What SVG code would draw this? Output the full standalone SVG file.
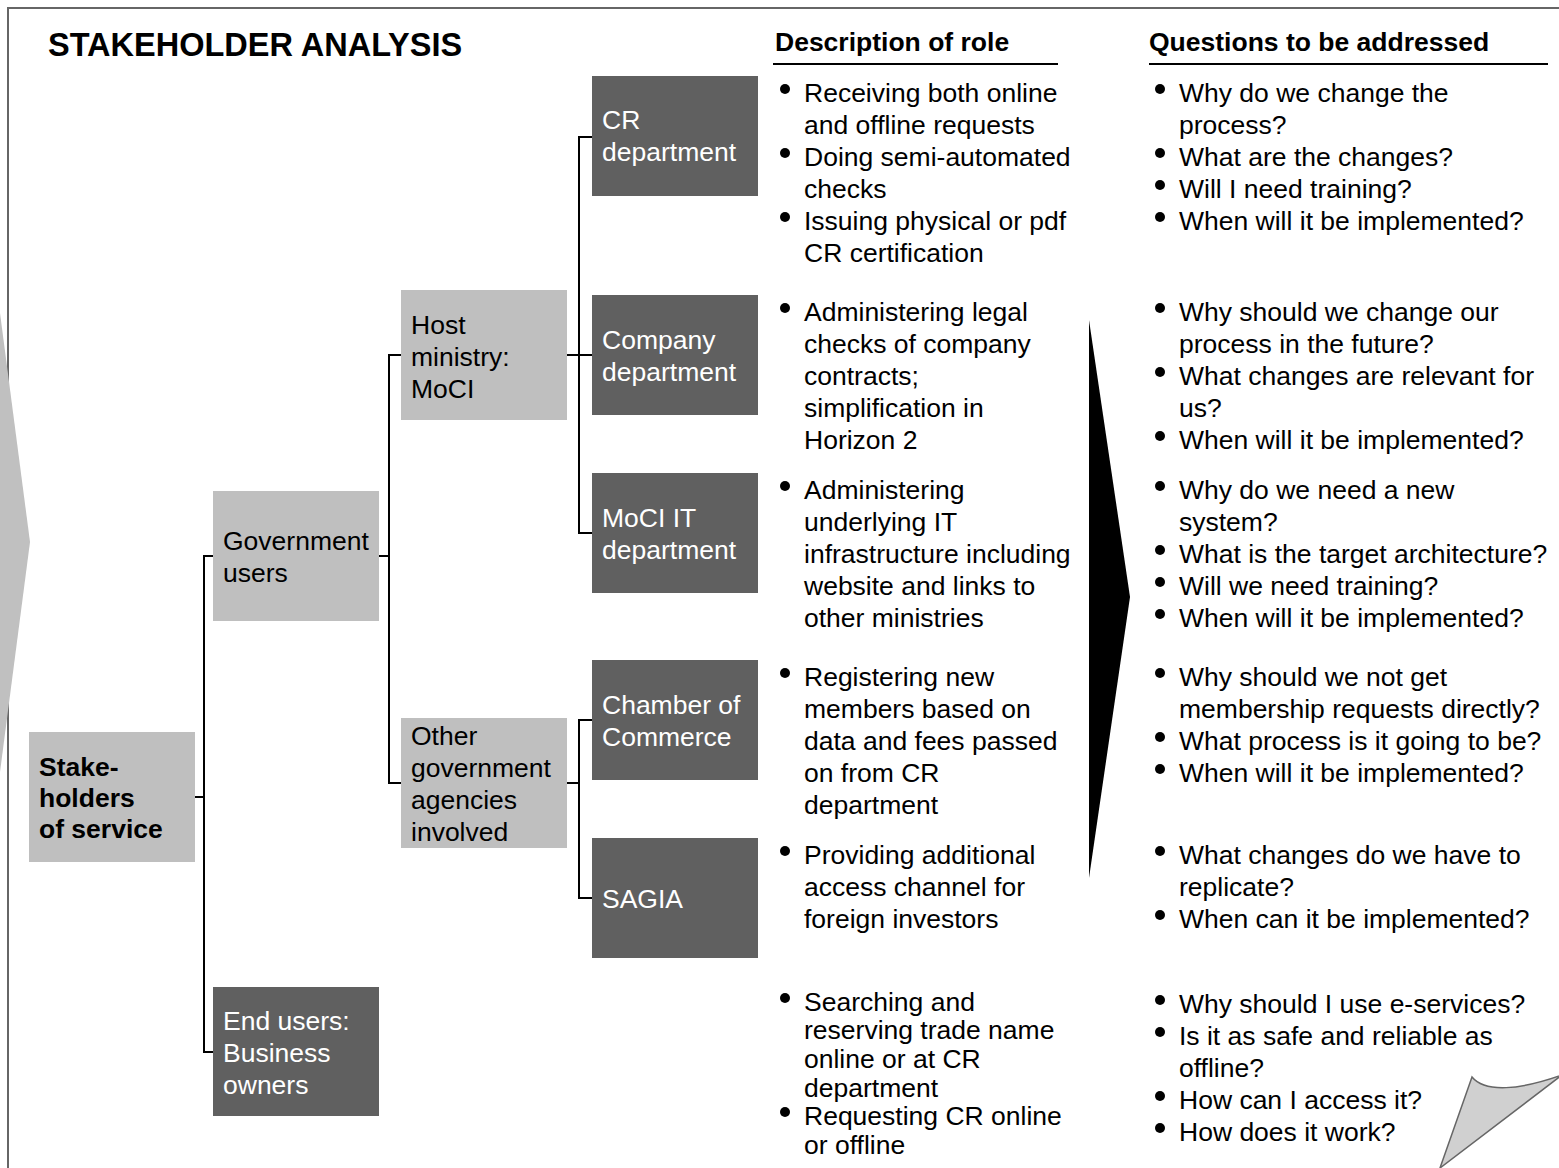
<svg xmlns="http://www.w3.org/2000/svg" width="1559" height="1168" viewBox="0 0 1559 1168">
<style>
text{font-family:"Liberation Sans",Arial,sans-serif;font-size:26.5px;fill:#000}
.b{font-weight:bold}
.w{fill:#fff}
.lt{fill:#bfbfbf}
.dk{fill:#606060}
.con{fill:none;stroke:#000;stroke-width:2}
.dot{fill:#000}
</style>
<rect x="0" y="0" width="1559" height="1168" fill="#fff"/>
<path d="M8,1168 V8 H1559" fill="none" stroke="#666" stroke-width="2"/>
<polygon points="0,313 30,542 0,772" fill="#c0c0c0"/>
<polygon points="1089,320 1130,597 1089,878" fill="#000"/>
<path d="M1440,1168 L1472,1077 C1485,1093 1520,1090 1562,1075 Z" fill="#d0d0d0" stroke="#666" stroke-width="1.5"/>

<text class="b" x="48" y="56" style="font-size:32.5px">STAKEHOLDER ANALYSIS</text>

<g id="header-role">
<text class="b" x="775" y="51">Description of role</text>
<line x1="773" y1="64" x2="1058" y2="64" stroke="#000" stroke-width="2"/>
</g>
<g id="header-questions">
<text class="b" x="1149" y="51">Questions to be addressed</text>
<line x1="1149" y1="64" x2="1548" y2="64" stroke="#000" stroke-width="2"/>
</g>

<g id="connectors">
<path class="con" d="M195,797 H204 M213,556 H204 V1052 H213"/>
<path class="con" d="M379,556 H389 M401,355 H389 V783 H401"/>
<path class="con" d="M567,355 H592 M592,137 H579 V533 H592"/>
<path class="con" d="M567,783 H579 M592,720 H579 V898 H592"/>
</g>

<g id="stakeholders">
<rect class="lt" x="29" y="732" width="166" height="130"/>
<text class="b" x="39" y="776">Stake-</text>
<text class="b" x="39" y="807">holders</text>
<text class="b" x="39" y="838">of service</text>
</g>
<g id="government-users">
<rect class="lt" x="213" y="491" width="166" height="130"/>
<text x="223" y="550">Government</text>
<text x="223" y="582">users</text>
</g>
<g id="end-users">
<rect class="dk" x="213" y="987" width="166" height="129"/>
<text class="w" x="223" y="1030">End users:</text>
<text class="w" x="223" y="1062">Business</text>
<text class="w" x="223" y="1094">owners</text>
</g>
<g id="host-ministry">
<rect class="lt" x="401" y="290" width="166" height="130"/>
<text x="411" y="334">Host</text>
<text x="411" y="366">ministry:</text>
<text x="411" y="398">MoCI</text>
</g>
<g id="other-agencies">
<rect class="lt" x="401" y="718" width="166" height="130"/>
<text x="411" y="745">Other</text>
<text x="411" y="777">government</text>
<text x="411" y="809">agencies</text>
<text x="411" y="841">involved</text>
</g>
<g id="cr-department">
<rect class="dk" x="592" y="76" width="166" height="120"/>
<text class="w" x="602" y="129">CR</text>
<text class="w" x="602" y="161">department</text>
</g>
<g id="company-department">
<rect class="dk" x="592" y="295" width="166" height="120"/>
<text class="w" x="602" y="349">Company</text>
<text class="w" x="602" y="381">department</text>
</g>
<g id="moci-it-department">
<rect class="dk" x="592" y="473" width="166" height="120"/>
<text class="w" x="602" y="527">MoCI IT</text>
<text class="w" x="602" y="559">department</text>
</g>
<g id="chamber-of-commerce">
<rect class="dk" x="592" y="660" width="166" height="120"/>
<text class="w" x="602" y="714">Chamber of</text>
<text class="w" x="602" y="746">Commerce</text>
</g>
<g id="sagia">
<rect class="dk" x="592" y="838" width="166" height="120"/>
<text class="w" x="602" y="908">SAGIA</text>
</g>

<g id="roles">
<circle class="dot" cx="785" cy="89" r="5"/>
<text x="804" y="102">Receiving both online</text>
<text x="804" y="134">and offline requests</text>
<circle class="dot" cx="785" cy="153" r="5"/>
<text x="804" y="166">Doing semi-automated</text>
<text x="804" y="198">checks</text>
<circle class="dot" cx="785" cy="217" r="5"/>
<text x="804" y="230">Issuing physical or pdf</text>
<text x="804" y="262">CR certification</text>

<circle class="dot" cx="785" cy="308" r="5"/>
<text x="804" y="321">Administering legal</text>
<text x="804" y="353">checks of company</text>
<text x="804" y="385">contracts;</text>
<text x="804" y="417">simplification in</text>
<text x="804" y="449">Horizon 2</text>

<circle class="dot" cx="785" cy="486" r="5"/>
<text x="804" y="499">Administering</text>
<text x="804" y="531">underlying IT</text>
<text x="804" y="563">infrastructure including</text>
<text x="804" y="595">website and links to</text>
<text x="804" y="627">other ministries</text>

<circle class="dot" cx="785" cy="673" r="5"/>
<text x="804" y="686">Registering new</text>
<text x="804" y="718">members based on</text>
<text x="804" y="750">data and fees passed</text>
<text x="804" y="782">on from CR</text>
<text x="804" y="814">department</text>

<circle class="dot" cx="785" cy="851" r="5"/>
<text x="804" y="864">Providing additional</text>
<text x="804" y="896">access channel for</text>
<text x="804" y="928">foreign investors</text>

<circle class="dot" cx="785" cy="998" r="5"/>
<text x="804" y="1011">Searching and</text>
<text x="804" y="1039">reserving trade name</text>
<text x="804" y="1068">online or at CR</text>
<text x="804" y="1097">department</text>
<circle class="dot" cx="785" cy="1112" r="5"/>
<text x="804" y="1125">Requesting CR online</text>
<text x="804" y="1154">or offline</text>
</g>

<g id="questions">
<circle class="dot" cx="1160" cy="89" r="5"/>
<text x="1179" y="102">Why do we change the</text>
<text x="1179" y="134">process?</text>
<circle class="dot" cx="1160" cy="153" r="5"/>
<text x="1179" y="166">What are the changes?</text>
<circle class="dot" cx="1160" cy="185" r="5"/>
<text x="1179" y="198">Will I need training?</text>
<circle class="dot" cx="1160" cy="217" r="5"/>
<text x="1179" y="230">When will it be implemented?</text>

<circle class="dot" cx="1160" cy="308" r="5"/>
<text x="1179" y="321">Why should we change our</text>
<text x="1179" y="353">process in the future?</text>
<circle class="dot" cx="1160" cy="372" r="5"/>
<text x="1179" y="385">What changes are relevant for</text>
<text x="1179" y="417">us?</text>
<circle class="dot" cx="1160" cy="436" r="5"/>
<text x="1179" y="449">When will it be implemented?</text>

<circle class="dot" cx="1160" cy="486" r="5"/>
<text x="1179" y="499">Why do we need a new</text>
<text x="1179" y="531">system?</text>
<circle class="dot" cx="1160" cy="550" r="5"/>
<text x="1179" y="563">What is the target architecture?</text>
<circle class="dot" cx="1160" cy="582" r="5"/>
<text x="1179" y="595">Will we need training?</text>
<circle class="dot" cx="1160" cy="614" r="5"/>
<text x="1179" y="627">When will it be implemented?</text>

<circle class="dot" cx="1160" cy="673" r="5"/>
<text x="1179" y="686">Why should we not get</text>
<text x="1179" y="718">membership requests directly?</text>
<circle class="dot" cx="1160" cy="737" r="5"/>
<text x="1179" y="750">What process is it going to be?</text>
<circle class="dot" cx="1160" cy="769" r="5"/>
<text x="1179" y="782">When will it be implemented?</text>

<circle class="dot" cx="1160" cy="851" r="5"/>
<text x="1179" y="864">What changes do we have to</text>
<text x="1179" y="896">replicate?</text>
<circle class="dot" cx="1160" cy="915" r="5"/>
<text x="1179" y="928">When can it be implemented?</text>

<circle class="dot" cx="1160" cy="1000" r="5"/>
<text x="1179" y="1013">Why should I use e-services?</text>
<circle class="dot" cx="1160" cy="1032" r="5"/>
<text x="1179" y="1045">Is it as safe and reliable as</text>
<text x="1179" y="1077">offline?</text>
<circle class="dot" cx="1160" cy="1096" r="5"/>
<text x="1179" y="1109">How can I access it?</text>
<circle class="dot" cx="1160" cy="1128" r="5"/>
<text x="1179" y="1141">How does it work?</text>
</g>
</svg>
